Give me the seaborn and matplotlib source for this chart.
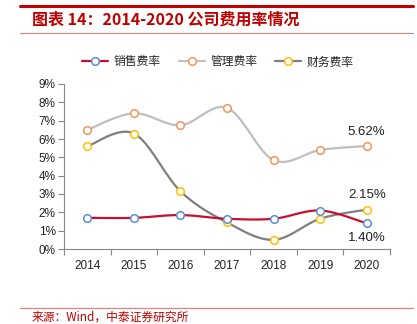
import numpy as np
import pandas as pd
import matplotlib
matplotlib.use("Agg")
import matplotlib.pyplot as plt
import seaborn as sns
from matplotlib.lines import Line2D

years = ["2014", "2015", "2016", "2017", "2018", "2019", "2020"]
sales_rate = [1.70, 1.70, 1.85, 1.65, 1.65, 2.10, 1.40]
admin_rate = [6.50, 7.40, 6.75, 7.70, 4.85, 5.40, 5.62]
fin_rate = [5.60, 6.30, 3.15, 1.45, 0.50, 1.65, 2.15]
series_names = ["销售费率", "管理费率", "财务费率"]
yticks = [0, 1, 2, 3, 4, 5, 6, 7, 8, 9]

sns.set_theme(style="white")
plt.rcParams['font.family'] = ['Liberation Sans', 'Noto Sans CJK SC', 'DejaVu Sans']

W, H = 417, 324
fig = plt.figure(figsize=(W / 100, H / 100), dpi=100)
ax = fig.add_axes([64 / W, 1 - 249 / H, (390 - 64) / W, (249 - 84) / H])

line_colors = ["#C8102E", "#BFBFBF", "#7F7F7F"]
marker_colors = ["#5B8BD9", "#F0965A", "#FFC000"]


def smooth(xs, ys, n=20):
    # Catmull-Rom curve through the points (display smoothing only)
    xs = np.asarray(xs, float)
    ys = np.asarray(ys, float)
    px = np.concatenate([[xs[0]], xs, [xs[-1]]])
    py = np.concatenate([[ys[0]], ys, [ys[-1]]])
    ox, oy = [], []
    for i in range(1, len(px) - 2):
        t = np.linspace(0, 1, n, endpoint=False)
        for arr, out in ((px, ox), (py, oy)):
            p0, p1, p2, p3 = arr[i - 1], arr[i], arr[i + 1], arr[i + 2]
            out.extend(0.5 * ((2 * p1) + (-p0 + p2) * t
                              + (2 * p0 - 5 * p1 + 4 * p2 - p3) * t ** 2
                              + (-p0 + 3 * p1 - 3 * p2 + p3) * t ** 3))
    ox.append(xs[-1])
    oy.append(ys[-1])
    return np.array(ox), np.array(oy)


xpos = np.arange(len(years))
all_series = [sales_rate, admin_rate, fin_rate]
order = [1, 2, 0]
for k in order:
    vals = np.array(all_series[k]) / 100
    sx, sy = smooth(xpos, vals)
    df_s = pd.DataFrame({"x": sx, "y": sy})
    sns.lineplot(data=df_s, x="x", y="y", ax=ax, color=line_colors[k],
                 linewidth=1.6, sort=False, zorder=2)
for k in order:
    vals = np.array(all_series[k]) / 100
    df_p = pd.DataFrame({"x": xpos, "y": vals})
    ax.scatter(df_p["x"], df_p["y"], s=30, facecolor="white",
               edgecolor=marker_colors[k], linewidth=1.1, zorder=3)

ax.set_xlim(-0.5, len(years) - 0.5)
ax.set_ylim(0, 0.09)
ax.set_yticks([v / 100 for v in yticks])
ax.set_yticklabels([f"{v}%" for v in yticks], fontsize=8.5, color="#222222")
ax.set_xticks(xpos)
ax.set_xticklabels(years, fontsize=8.5, color="#222222")
ax.set_xticks(np.arange(-0.5, len(years)), minor=True)
ax.tick_params(axis="x", which="major", length=0, pad=8)
ax.tick_params(axis="x", which="minor", length=4, width=0.8, color="#888888", direction="out", bottom=True)
ax.tick_params(axis="y", length=4, width=0.8, color="#888888", direction="out", left=True, pad=2)
ax.set_xlabel("")
ax.set_ylabel("")
for s in ["top", "right"]:
    ax.spines[s].set_visible(False)
for s in ["left", "bottom"]:
    ax.spines[s].set_color("#888888")
    ax.spines[s].set_linewidth(0.8)
ax.grid(False)

# value annotations
ax.text(6, admin_rate[-1] / 100 + 0.0045, f"{admin_rate[-1]:.2f}%", ha="center", va="bottom", fontsize=9.5, color="#222222")
ax.text(6, fin_rate[-1] / 100 + 0.0045, f"{fin_rate[-1]:.2f}%", ha="center", va="bottom", fontsize=9.5, color="#222222")
ax.text(6, sales_rate[-1] / 100 - 0.0045, f"{sales_rate[-1]:.2f}%", ha="center", va="top", fontsize=9.5, color="#222222")

handles = [Line2D([0], [0], color=line_colors[k], linewidth=1.6, marker="o",
                  markersize=5.5, markerfacecolor="white", markeredgecolor=marker_colors[k],
                  markeredgewidth=1.1) for k in range(3)]
fig.legend(handles, series_names, loc="center", bbox_to_anchor=(218 / W, 1 - 62 / H),
           ncol=3, frameon=False, handlelength=2.2, columnspacing=1.5,
           handletextpad=0.5, prop={'family': ['Noto Sans CJK SC', 'DejaVu Sans'], 'size': 8.5})

# header and footer
fig.add_artist(Line2D([20 / W, 413 / W], [1 - 6 / H, 1 - 6 / H], color="#C00000", linewidth=2.2))
fig.add_artist(Line2D([20 / W, 413 / W], [1 - 33 / H, 1 - 33 / H], color="#E08080", linewidth=0.8))
fig.text(32 / W, 1 - 20 / H, "图表 14：2014-2020 公司费用率情况", fontsize=11.5, color="#C00000",
         fontweight="bold", style="italic", va="center", ha="left",
         family=['Noto Sans CJK SC', 'DejaVu Sans'])
fig.add_artist(Line2D([20 / W, 413 / W], [1 - 308 / H, 1 - 308 / H], color="#E08080", linewidth=0.9))
fig.text(32 / W, 1 - 311 / H, "来源：Wind，中泰证券研究所", fontsize=8.5, color="#C00000",
         va="top", ha="left", family=['Noto Sans CJK SC', 'DejaVu Sans'])

fig.savefig("out.png", dpi=100, facecolor="white")
